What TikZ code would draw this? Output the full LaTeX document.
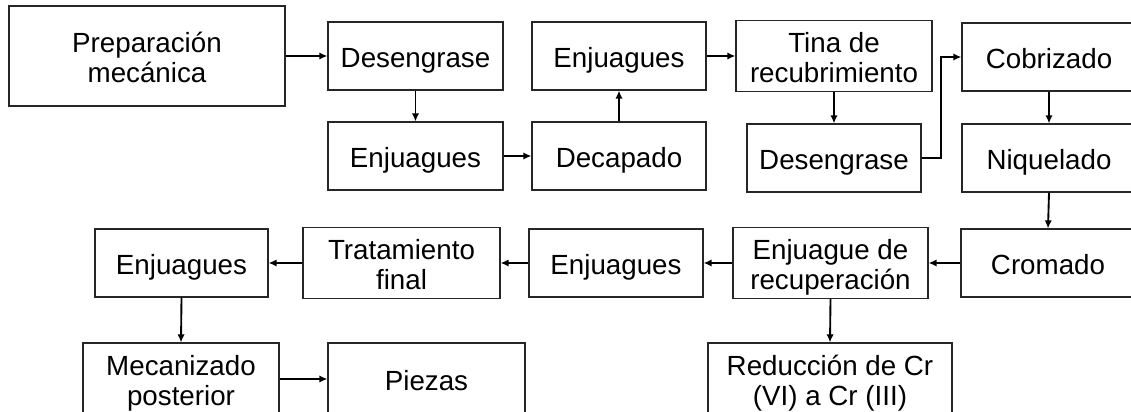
\documentclass[tikz,border=0pt]{standalone}
\usepackage{fontspec}
\setmainfont{Liberation Sans}
\usetikzlibrary{arrows.meta}
\newcommand{\lbl}[1]{\begin{tabular}{@{}c@{}}\rule{0pt}{24pt}#1\end{tabular}}
\begin{document}
\begin{tikzpicture}[x=0.75pt,y=-0.75pt,
  box/.style={draw=black!85, line width=0.9pt, inner sep=0pt, minimum height=51pt,
    font=\fontsize{20.8}{22.5}\selectfont},
  arr/.style={line width=1.4pt, -{Latex[length=6pt,width=5.5pt]}}]
\useasboundingbox (0,0) rectangle (1131,411);
\clip (0,0) rectangle (1131,411);
\node[box, minimum width=207pt, minimum height=75pt] (prep) at (147,56) {\lbl{Preparación\\mecánica}};
\node[box, minimum width=131.25pt] (des1) at (415.5,56) {\lbl{Desengrase}};
\node[box, minimum width=131.25pt] (enj1) at (415.5,156) {\lbl{Enjuagues}};
\node[box, minimum width=130.5pt] (enj2) at (619,56) {\lbl{Enjuagues}};
\node[box, minimum width=130.5pt] (dec) at (619,156) {\lbl{Decapado}};
\node[box, minimum width=147pt] (tina) at (834,56) {\lbl{Tina de\\recubrimiento}};
\node[box, minimum width=130.5pt] (des2) at (834,158) {\lbl{Desengrase}};
\node[box, minimum width=130.5pt] (cob) at (1049,57) {\lbl{Cobrizado}};
\node[box, minimum width=130.5pt] (niq) at (1049,158) {\lbl{Niquelado}};
\node[box, minimum width=130.5pt] (crom) at (1048,263) {\lbl{Cromado}};
\node[box, minimum width=146.25pt] (rec) at (830.5,263) {\lbl{Enjuague de\\recuperación}};
\node[box, minimum width=130.5pt] (enj3) at (616,263) {\lbl{Enjuagues}};
\node[box, minimum width=147.75pt] (trat) at (401.5,263) {\lbl{Tratamiento\\final}};
\node[box, minimum width=129.75pt] (enj4) at (181.5,263) {\lbl{Enjuagues}};
\node[box, minimum width=147pt, minimum height=54pt] (mec) at (181,379) {\lbl{Mecanizado\\posterior}};
\node[box, minimum width=147.75pt, minimum height=54pt] (piez) at (426.5,379) {\lbl{Piezas}};
\node[box, minimum width=183pt, minimum height=54pt] (red) at (830,379) {\lbl{Reducción de Cr\\(VI) a Cr (III)}};
\coordinate (bend) at (941,0);
\draw[arr] (prep.east) -- (des1.west);
\draw[arr] (des1.south) -- (enj1.north);
\draw[arr] (enj1.east) -- (dec.west);
\draw[arr] (dec.north) -- (enj2.south);
\draw[arr] (enj2.east) -- (tina.west);
\draw[arr] (tina.south) -- (des2.north);
\draw[arr] (des2.east) -| (bend |- cob.west) -- (cob.west);
\draw[arr] (cob.south) -- (niq.north);
\draw[arr] (niq.south) -- (crom.north);
\draw[arr] (crom.west) -- (rec.east);
\draw[arr] (rec.west) -- (enj3.east);
\draw[arr] (enj3.west) -- (trat.east);
\draw[arr] (trat.west) -- (enj4.east);
\draw[arr] (enj4.south) -- (mec.north);
\draw[arr] (mec.east) -- (piez.west);
\draw[arr] (rec.south) -- (red.north);
\end{tikzpicture}
\end{document}
